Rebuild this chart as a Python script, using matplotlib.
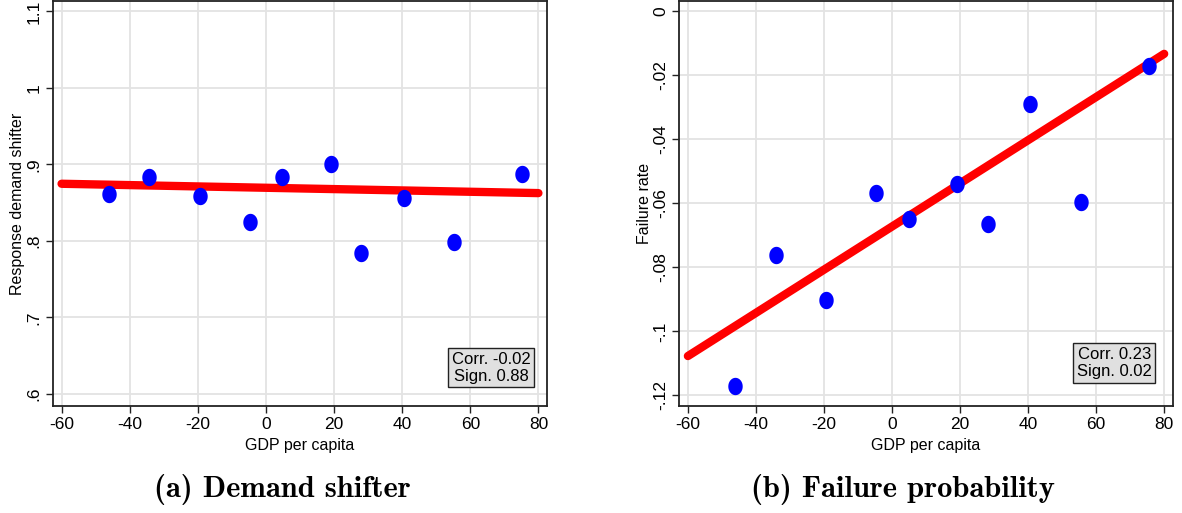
import os
import numpy as np
import matplotlib
matplotlib.use('Agg')
import matplotlib.pyplot as plt
from matplotlib.path import Path
from matplotlib.font_manager import FontProperties

plt.rcParams['font.family'] = ['Liberation Sans', 'DejaVu Sans']

# binned GDP per capita (same bins in both panels)
gdp_a = [-46.1, -34.3, -19.3, -4.6, 4.7, 19.0, 28.0, 40.4, 55.3, 75.2]
demand = [0.861, 0.884, 0.859, 0.825, 0.883, 0.901, 0.784, 0.856, 0.799, 0.887]

gdp_b = [-46.1, -34.2, -19.3, -4.6, 4.85, 19.1, 28.2, 40.7, 55.5, 75.6]
failure = [-0.1171, -0.0762, -0.0902, -0.0567, -0.0648, -0.0539, -0.0664, -0.0289, -0.0596, -0.0172]

# fitted lines (end points)
fit_x = [-60, 80]
fit_demand = [0.8747, 0.8625]
fit_failure = [-0.1077, -0.0133]

stats_a = "Corr. -0.02\nSign. 0.88"
stats_b = "Corr. 0.23\nSign. 0.02"

xticks = [-60, -40, -20, 0, 20, 40, 60, 80]
yticks_a = [0.6, 0.7, 0.8, 0.9, 1.0, 1.1]
ylabels_a = ['.6', '.7', '.8', '.9', '1', '1.1']
yticks_b = [-0.12, -0.10, -0.08, -0.06, -0.04, -0.02, 0.0]
ylabels_b = ['-.12', '-.1', '-.08', '-.06', '-.04', '-.02', '0']

# slightly tall ellipse marker, like Stata's
t = np.linspace(0, 2 * np.pi, 80)
ellipse = Path(np.column_stack([0.83 * np.cos(t), np.sin(t)]), closed=True)

# Computer Modern bold shipped with matplotlib, for the captions
cmb = FontProperties(fname=os.path.join(matplotlib.get_data_path(), 'fonts', 'ttf', 'cmb10.ttf'), size=22)

fig = plt.figure(figsize=(11.82, 5.13), dpi=100)
ax1 = fig.add_axes([0.0446, 0.2086, 0.4184, 0.7894])
ax2 = fig.add_axes([0.5745, 0.2086, 0.4179, 0.7894])


def panel(ax, x, y, fy, yt, yl, ylim, ylab, stats, box_xy, lpad):
    ax.grid(True, color='#e3e3e3', linewidth=1.3)
    ax.set_axisbelow(True)
    ax.plot(fit_x, fy, color='#ff0000', linewidth=6, solid_capstyle='round', zorder=2)
    ax.plot(x, y, linestyle='none', marker=ellipse, markersize=12.5,
            color='#0000ff', markeredgewidth=0, zorder=3)
    ax.set_xlim(-62.6, 82.6)
    ax.set_ylim(*ylim)
    ax.set_xticks(xticks)
    ax.set_xticklabels([str(v) for v in xticks])
    ax.set_yticks(yt)
    ax.set_yticklabels(yl, rotation=90, va='center')
    ax.tick_params(axis='both', labelsize=12.5, length=5, width=1, color='#222222', pad=3)
    for s in ax.spines.values():
        s.set_color('#222222')
        s.set_linewidth(1.3)
    ax.set_xlabel('GDP per capita', fontsize=11.5, labelpad=4)
    ax.set_ylabel(ylab, fontsize=11.5, labelpad=lpad)
    ax.text(box_xy[0], box_xy[1], stats, transform=ax.transAxes, fontsize=12,
            ha='center', va='center', linespacing=1.15,
            bbox=dict(boxstyle='square,pad=0.22', facecolor='#e0e0e0',
                      edgecolor='#222222', linewidth=1))


panel(ax1, gdp_a, demand, fit_demand, yticks_a, ylabels_a, (0.5843, 1.1135),
      'Response demand shifter', stats_a, (0.886, 0.094), 1.5)
panel(ax2, gdp_b, failure, fit_failure, yticks_b, ylabels_b, (-0.1233, 0.0032),
      'Failure rate', stats_b, (0.881, 0.106), 0.5)

fig.text(0.2386, 0.045, '(a) Demand shifter', ha='center', va='center', fontproperties=cmb)
fig.text(0.764, 0.045, '(b) Failure probability', ha='center', va='center', fontproperties=cmb)

fig.savefig('out.png', dpi=100)
